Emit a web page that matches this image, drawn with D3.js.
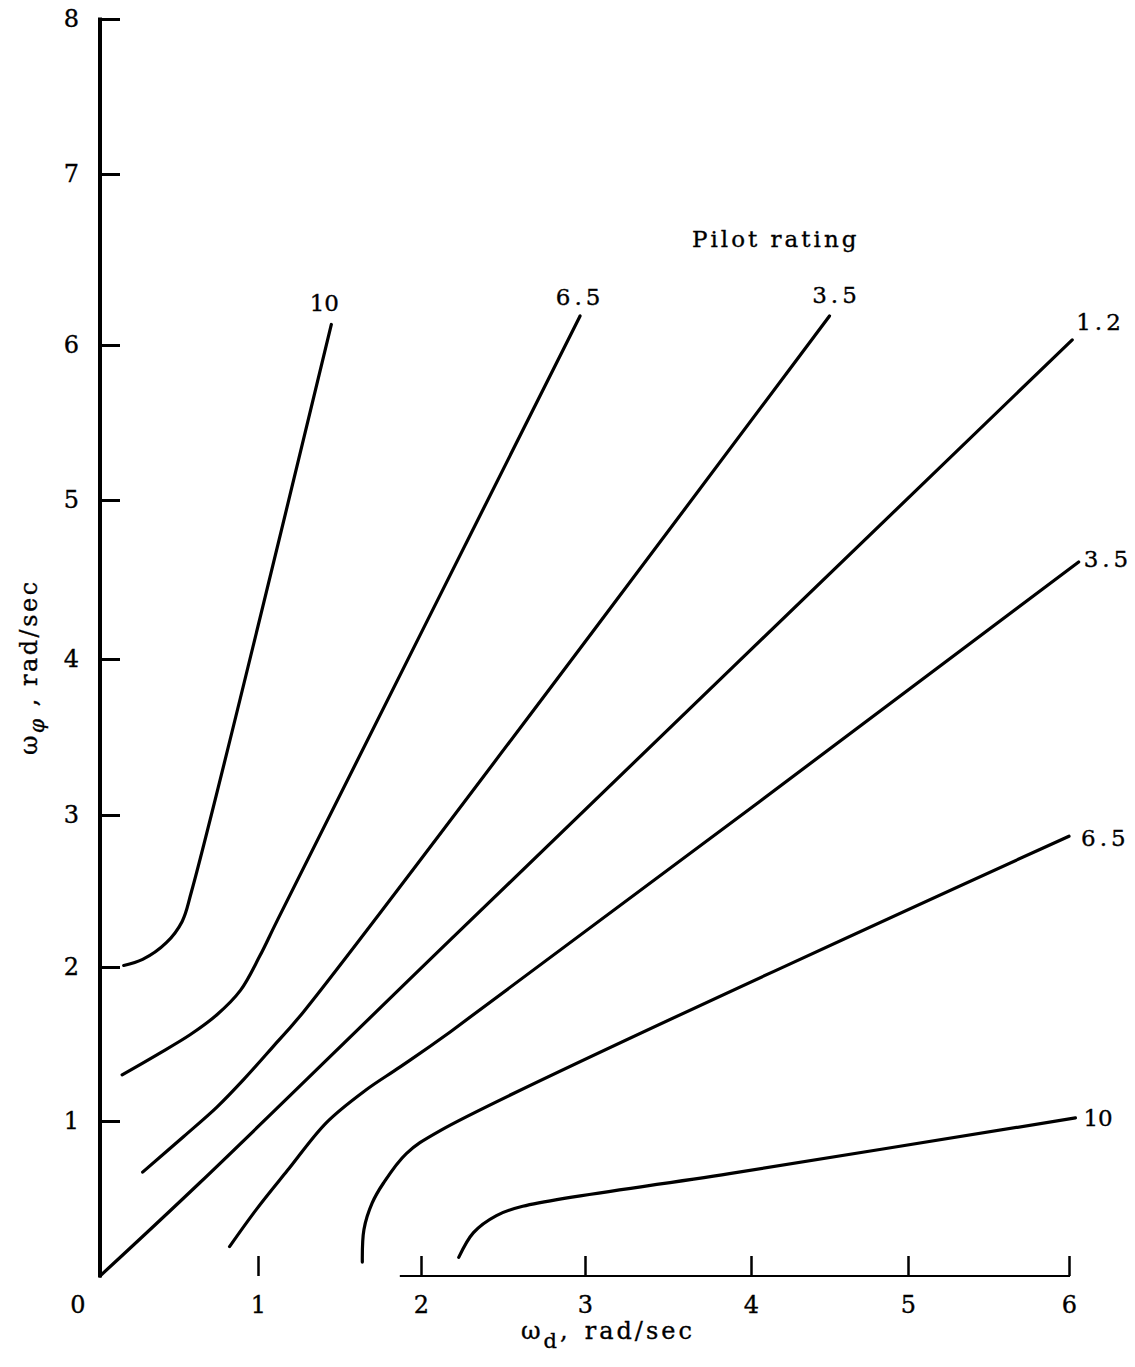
<!DOCTYPE html>
<html><head><meta charset="utf-8">
<script src="https://cdn.jsdelivr.net/npm/d3@7"></script>
<style>body{margin:0;background:#fff} text{stroke:#000;stroke-width:0.35px;fill:#000}</style>
</head><body><svg id="c" width="1135" height="1367"></svg>
<script>
// ---- data ----
const xTickValues = [1, 2, 3, 4, 5, 6];
const yTickValues = [1, 2, 3, 4, 5, 6, 7, 8];
const curveRatings = ["10", "6.5", "3.5", "1.2", "3.5", "6.5", "10"];
const curve10Upper = [[0.15,2.01],[0.27,2.05],[0.42,2.16],[0.52,2.30],[0.58,2.50],[1.45,6.12]];
const curve65Upper = [[0.14,1.30],[0.36,1.43],[0.57,1.56],[0.74,1.69],[0.89,1.85],[1.01,2.07],[1.12,2.31],[2.97,6.17]];
const curve35Upper = [[0.27,0.67],[0.53,0.90],[0.74,1.09],[0.91,1.27],[1.09,1.48],[1.28,1.71],[4.50,6.17]];
const curve12 = [[0,0],[0.63,0.60],[2.18,2.18],[6.02,6.03]];
const curve35Lower = [[0.82,0.19],[0.99,0.43],[1.18,0.68],[1.42,0.99],[1.66,1.20],[1.87,1.35],[2.18,1.58],[6.06,4.61]];
const curve65Lower = [[1.64,0.09],[1.65,0.30],[1.70,0.47],[1.77,0.60],[1.91,0.79],[2.12,0.94],[6.00,2.86]];
const curve10Lower = [[2.23,0.12],[2.32,0.28],[2.46,0.39],[2.62,0.45],[3.87,0.66],[6.04,1.02]];
const curves = [curve10Upper, curve65Upper, curve35Upper, curve12, curve35Lower, curve65Lower, curve10Lower];

// ---- layout ----
const svg = d3.select("#c");
const FONT = "'DejaVu Serif', 'Liberation Serif', serif";
const x = d3.scaleLinear().domain([0,1,2,3,4,5,6]).range([100,258,421,585,751,908,1069]);
const y = d3.scaleLinear().domain([0,1,2,3,4,5,6,7,8]).range([1276,1121,967,815,659,500,345,174,19]);

// y axis
const yAxis = d3.axisLeft(y).tickValues(yTickValues).tickSizeInner(-20).tickSizeOuter(0).tickPadding(21).tickFormat(d3.format("d"));
const gy = svg.append("g").attr("transform","translate(100,0)").call(yAxis);
gy.select(".domain").remove();
gy.selectAll(".tick line").attr("stroke","#000").attr("stroke-width",3);
gy.selectAll(".tick text").attr("font-family",FONT).attr("font-size",24).attr("fill","#000");
svg.append("line").attr("x1",x(0)).attr("x2",x(0)).attr("y1",y(8)-1.5).attr("y2",y(0)+1.5)
  .attr("stroke","#000").attr("stroke-width",4);

// x axis
const xAxis = d3.axisBottom(x).tickValues(xTickValues).tickSizeInner(-20).tickSizeOuter(0).tickPadding(20).tickFormat(d3.format("d"));
const gx = svg.append("g").attr("transform",`translate(0,${y(0)})`).call(xAxis);
gx.select(".domain").remove();
gx.selectAll(".tick line").attr("stroke","#000").attr("stroke-width",2.5);
gx.selectAll(".tick text").attr("font-family",FONT).attr("font-size",24).attr("fill","#000");
svg.append("line").attr("x1",x(1.87)).attr("x2",x(6)+1).attr("y1",y(0)).attr("y2",y(0))
  .attr("stroke","#000").attr("stroke-width",2);

// origin label
svg.append("text").attr("x",x(0)-22).attr("y",y(0)+37).attr("text-anchor","middle")
  .attr("font-family",FONT).attr("font-size",24).text("0");

// curves
const line = d3.line().x(d=>x(d[0])).y(d=>y(d[1])).curve(d3.curveCatmullRom.alpha(0.5));
svg.append("g").selectAll("path").data(curves).join("path")
  .attr("d",line).attr("fill","none").attr("stroke","#000").attr("stroke-width",3.2)
  .attr("stroke-linecap","round").attr("stroke-linejoin","round");

// curve labels (offsets in px from the curve end)
const labelOffsets = [[-7,-13,"middle"],[0,-11,"middle"],[7,-13,"middle"],[4,-10,"start"],[5,5,"start"],[12,10,"start"],[8,8,"start"]];
svg.append("g").selectAll("text").data(curves).join("text")
  .attr("x",(d,i)=>x(d[d.length-1][0])+labelOffsets[i][0])
  .attr("y",(d,i)=>y(d[d.length-1][1])+labelOffsets[i][1])
  .attr("text-anchor",(d,i)=>labelOffsets[i][2])
  .attr("font-family",FONT).attr("font-size",23)
  .attr("letter-spacing",(d,i)=>curveRatings[i].includes(".")?"4px":"0px")
  .text((d,i)=>curveRatings[i]);

// legend title
svg.append("text").attr("x",692).attr("y",247).attr("font-family",FONT).attr("font-size",23)
  .attr("letter-spacing","3px").text("Pilot rating");

// x axis title
const xt = svg.append("text").attr("x",521).attr("y",1339).attr("font-family",FONT).attr("font-size",24).attr("letter-spacing","3px");
xt.append("tspan").text("ω");
xt.append("tspan").attr("dy",9).attr("font-size",21).text("d");
xt.append("tspan").attr("dy",-9).text(",");
xt.append("tspan").attr("dx",14).text("rad/sec");

// y axis title
const yt = svg.append("text").attr("transform","translate(37,755) rotate(-90)").attr("font-family",FONT).attr("font-size",24).attr("letter-spacing","2.5px");
yt.append("tspan").text("ω");
yt.append("tspan").attr("dy",7).attr("font-size",20).attr("font-style","italic").text("φ");
yt.append("tspan").attr("dy",-7).text(" , rad/sec");
</script></body></html>
